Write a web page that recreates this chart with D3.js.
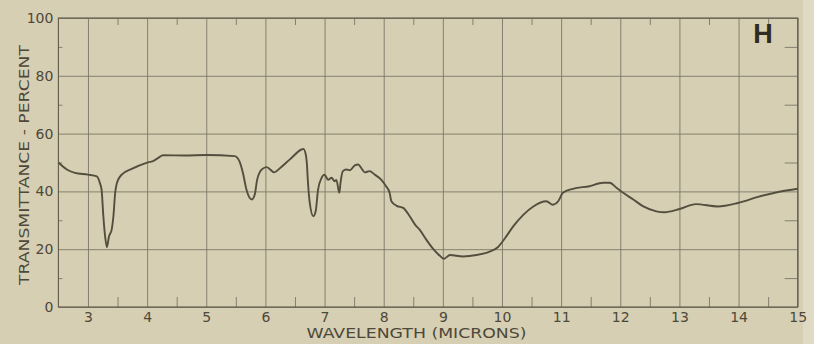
<!DOCTYPE html>
<html>
<head>
<meta charset="utf-8">
<script src="https://cdn.jsdelivr.net/npm/d3@7"></script>
<style>
  html, body { margin: 0; padding: 0; background: #d6cfb3; }
  svg { display: block; }
  .axis path { display: none; }
  .axis text { font-family: "DejaVu Sans", sans-serif; fill: #4d4839; }
</style>
</head>
<body>
<div id="chart"></div>
<script>
// wavelength (microns) and transmittance (%)
const wavelength = [
  2.5, 2.65, 2.78, 3.0, 3.15, 3.2, 3.23, 3.26, 3.29, 3.32, 3.355, 3.4, 3.43, 3.46, 3.49,
  3.57, 3.74, 3.99, 4.1, 4.19, 4.27, 4.64, 5.0, 5.48, 5.56, 5.62, 5.68, 5.77, 5.82, 5.86,
  5.94, 6.02, 6.15, 6.25, 6.41, 6.61, 6.64, 6.68, 6.7, 6.72, 6.75, 6.81, 6.85, 6.89, 6.95,
  7.0, 7.06, 7.12, 7.17, 7.2, 7.25, 7.27, 7.31, 7.37, 7.43, 7.51, 7.57, 7.62, 7.68, 7.76,
  7.85, 7.96, 8.04, 8.1, 8.13, 8.22, 8.33, 8.44, 8.53, 8.61, 8.72, 8.84, 8.95, 9.02, 9.12,
  9.34, 9.57, 9.79, 9.93, 10.05, 10.19, 10.36, 10.53, 10.75, 10.86, 10.95, 11.03, 11.2, 11.48, 11.71,
  11.82, 11.94, 12.05, 12.22, 12.39, 12.61, 12.75, 13.0, 13.28, 13.65, 13.99, 14.33, 14.67, 15.0
];
const transmittance = [
  50, 47.5, 46.4, 45.8, 45.2, 43, 40.6, 31.4, 24.4, 20.7, 24.4, 26.7, 31.4, 39.5, 43,
  45.8, 47.8, 49.9, 50.5, 51.6, 52.5, 52.4, 52.6, 52.2, 50.5, 46.4, 40.6, 37.2, 38.9, 44,
  47.6, 48.4, 46.6, 48.1, 51, 54.5, 54.7, 53, 49.9, 43, 36, 31.4, 33.1, 40.6, 44.7,
  45.8, 44, 44.7, 43.5, 44, 39.5, 43, 47, 47.6, 47.3, 49, 49.3, 48.1, 46.6, 47,
  45.8, 44, 41.8, 39.5, 36.6, 35, 34.3, 31.4, 28.5, 26.7, 23.3, 20, 17.7, 16.7, 18,
  17.5, 18, 19.2, 20.7, 23.8, 27.9, 31.9, 34.8, 36.6, 35.4, 36.6, 39.5, 40.9, 41.8, 43,
  43, 41.2, 39.5, 37.2, 34.8, 33.1, 32.8, 33.9, 35.6, 34.8, 36, 38.1, 39.8, 40.9
];

const xMajorTicks = [3, 4, 5, 6, 7, 8, 9, 10, 11, 12, 13, 14, 15];
const xMinorTicks = [3.5, 4.5, 5.5, 6.5, 7.5, 8.5, 9.5, 10.5, 11.5, 12.5, 13.5, 14.5];
const yMajorTicks = [0, 20, 40, 60, 80, 100];
const yMinorTicks = [10, 30, 50, 70, 90];
const xTitle = "WAVELENGTH (MICRONS)";
const yTitle = "TRANSMITTANCE - PERCENT";
const panelLabel = "H";

const W = 814, H = 344;
const plotLeft = 58.4, plotRight = 797.7, plotTop = 18, plotBottom = 307;

const svg = d3.select("#chart").append("svg")
    .attr("width", W)
    .attr("height", H);

svg.append("rect").attr("width", W).attr("height", H).attr("fill", "#d6cfb3");
// lighter strip at the page edge
svg.append("rect").attr("x", 803).attr("width", W - 803).attr("height", H).attr("fill", "#e0dac4");

const x = d3.scaleLinear().domain([2.5, 15]).range([plotLeft, plotRight]);
const y = d3.scaleLinear().domain([0, 100]).range([plotBottom, plotTop]);

const gridColor = "#7c7766";

// vertical grid + x labels
const xAxis = svg.append("g")
    .attr("class", "axis")
    .attr("transform", `translate(0,${plotBottom})`)
    .call(d3.axisBottom(x).tickValues(xMajorTicks).tickSize(-(plotBottom - plotTop)).tickPadding(5));
xAxis.selectAll("line").attr("stroke", gridColor).attr("stroke-width", 0.9);
xAxis.selectAll("text").attr("font-size", 14);

// horizontal grid + y labels
const yAxis = svg.append("g")
    .attr("class", "axis")
    .attr("transform", `translate(${plotLeft},0)`)
    .call(d3.axisLeft(y).tickValues(yMajorTicks).tickSize(-(plotRight - plotLeft)).tickPadding(5));
yAxis.selectAll("line").attr("stroke", gridColor).attr("stroke-width", 0.9);
yAxis.selectAll("text").attr("font-size", 14);

// minor ticks
const minorB = svg.append("g").attr("class", "axis")
    .attr("transform", `translate(0,${plotBottom})`)
    .call(d3.axisBottom(x).tickValues(xMinorTicks).tickSize(-10).tickFormat(""));
const minorT = svg.append("g").attr("class", "axis")
    .attr("transform", `translate(0,${plotTop})`)
    .call(d3.axisTop(x).tickValues(xMinorTicks).tickSize(-7).tickFormat(""));
const minorL = svg.append("g").attr("class", "axis")
    .attr("transform", `translate(${plotLeft},0)`)
    .call(d3.axisLeft(y).tickValues(yMinorTicks).tickSize(-4).tickFormat(""));
const minorR = svg.append("g").attr("class", "axis")
    .attr("transform", `translate(${plotRight},0)`)
    .call(d3.axisRight(y).tickValues(yMinorTicks).tickSize(-13).tickFormat(""));
[minorB, minorT, minorL, minorR].forEach(g => g.selectAll("line").attr("stroke", gridColor).attr("stroke-width", 0.9));

// frame
svg.append("rect")
    .attr("x", plotLeft).attr("y", plotTop)
    .attr("width", plotRight - plotLeft).attr("height", plotBottom - plotTop)
    .attr("fill", "none")
    .attr("stroke", "#5f5a4a")
    .attr("stroke-width", 1.1);

// spectrum
const points = wavelength.map((w, i) => [w, transmittance[i]]);
const line = d3.line()
    .x(d => x(d[0]))
    .y(d => y(d[1]))
    .curve(d3.curveMonotoneX);

svg.append("path")
    .datum(points)
    .attr("fill", "none")
    .attr("stroke", "#534e3e")
    .attr("stroke-width", 1.9)
    .attr("stroke-linejoin", "round")
    .attr("d", line);

// titles
svg.append("text")
    .attr("x", 416.5).attr("y", 338)
    .attr("text-anchor", "middle")
    .attr("font-family", "DejaVu Sans, sans-serif")
    .attr("font-size", 14)
    .attr("fill", "#4d4839")
    .attr("textLength", 220)
    .attr("lengthAdjust", "spacingAndGlyphs")
    .text(xTitle);

svg.append("text")
    .attr("transform", "translate(29,165) rotate(-90)")
    .attr("text-anchor", "middle")
    .attr("font-family", "DejaVu Sans, sans-serif")
    .attr("font-size", 14)
    .attr("fill", "#4d4839")
    .attr("textLength", 240)
    .attr("lengthAdjust", "spacingAndGlyphs")
    .text(yTitle);

svg.append("text")
    .attr("x", 763).attr("y", 43)
    .attr("text-anchor", "middle")
    .attr("font-family", "Liberation Sans, sans-serif")
    .attr("font-weight", "bold")
    .attr("font-size", 27)
    .attr("fill", "#2f2b22")
    .text(panelLabel);
</script>
</body>
</html>
